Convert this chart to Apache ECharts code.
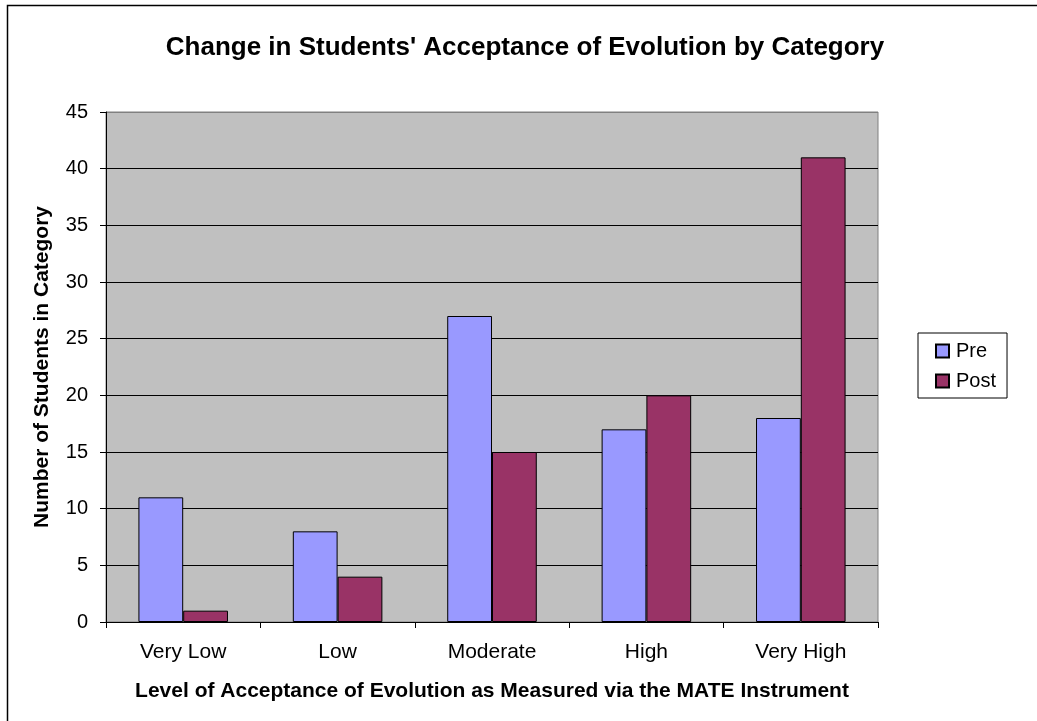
<!DOCTYPE html>
<html>
<head>
<meta charset="utf-8">
<script src="https://cdn.jsdelivr.net/npm/echarts@6/dist/echarts.min.js"></script>
<style>html,body{margin:0;padding:0;background:#fff}#c{width:1037px;height:721px}</style>
</head>
<body>
<div id="c"></div>
<script>
var categories = ['Very Low', 'Low', 'Moderate', 'High', 'Very High'];
var preValues = [11, 8, 27, 17, 18];
var postValues = [1, 4, 15, 20, 41];
var yTicks = [0, 5, 10, 15, 20, 25, 30, 35, 40, 45];

var chart = echarts.init(document.getElementById('c'), null, {renderer: 'canvas'});
var F = '"Liberation Sans", Arial, sans-serif';
chart.setOption({
  animation: false,
  backgroundColor: '#ffffff',
  title: {
    text: "Change in Students' Acceptance of Evolution by Category",
    left: 520, top: 43, textAlign: 'center', textVerticalAlign: 'middle',
    textStyle: {fontFamily: F, fontSize: 26, fontWeight: 'bold', color: '#000'}
  },
  graphic: [{
    type: 'rect', silent: true, z: -1,
    shape: {x: 7.5, y: 5.5, width: 1060, height: 740},
    style: {fill: 'none', stroke: '#000', lineWidth: 1.5}
  }],
  legend: {
    orient: 'vertical', left: 918, top: 333,
    icon: 'rect',
    itemWidth: 13, itemHeight: 13, itemGap: 10,
    padding: [8, 11, 7, 17],
    borderColor: '#000', borderWidth: 1, backgroundColor: '#fff',
    textStyle: {fontFamily: F, fontSize: 20, color: '#000', padding: [0, 0, 0, 2]},
    data: ['Pre', 'Post']
  },
  grid: {left: 106, right: 159, top: 112, bottom: 99, show: true,
    backgroundColor: '#c0c0c0', borderColor: '#808080', borderWidth: 1},
  xAxis: {
    type: 'category', data: categories,
    name: 'Level of Acceptance of Evolution as Measured via the MATE Instrument',
    nameLocation: 'middle', nameGap: 59,
    nameTextStyle: {fontFamily: F, fontSize: 21, fontWeight: 'bold', color: '#000'},
    axisLine: {lineStyle: {color: '#000', width: 1}},
    axisTick: {show: true, length: 6, lineStyle: {color: '#000'}},
    axisLabel: {fontFamily: F, fontSize: 21, color: '#000', margin: 20}
  },
  yAxis: {
    type: 'value', min: 0, max: 45, interval: 5,
    name: 'Number of Students in Category',
    nameLocation: 'middle', nameGap: 53,
    nameTextStyle: {fontFamily: F, fontSize: 21, fontWeight: 'bold', color: '#000'},
    axisLine: {show: true, lineStyle: {color: '#000', width: 1}},
    axisTick: {show: true, length: 6, lineStyle: {color: '#000'}},
    axisLabel: {fontFamily: F, fontSize: 20, color: '#000', margin: 18,
      formatter: function (v) { return yTicks.indexOf(v) >= 0 ? String(v) : ''; }},
    splitLine: {show: true, lineStyle: {width: 1,
      color: ['#000', '#000', '#000', '#000', '#000', '#000', '#000', '#000', '#000', '#808080']}}
  },
  series: [
    {name: 'Pre', type: 'bar', data: preValues, barGap: '0%', barCategoryGap: '42%',
      itemStyle: {color: '#9999ff', borderColor: '#000', borderWidth: 1}},
    {name: 'Post', type: 'bar', data: postValues, barGap: '0%', barCategoryGap: '42%',
      itemStyle: {color: '#993366', borderColor: '#000', borderWidth: 1}}
  ]
});
</script>
</body>
</html>
